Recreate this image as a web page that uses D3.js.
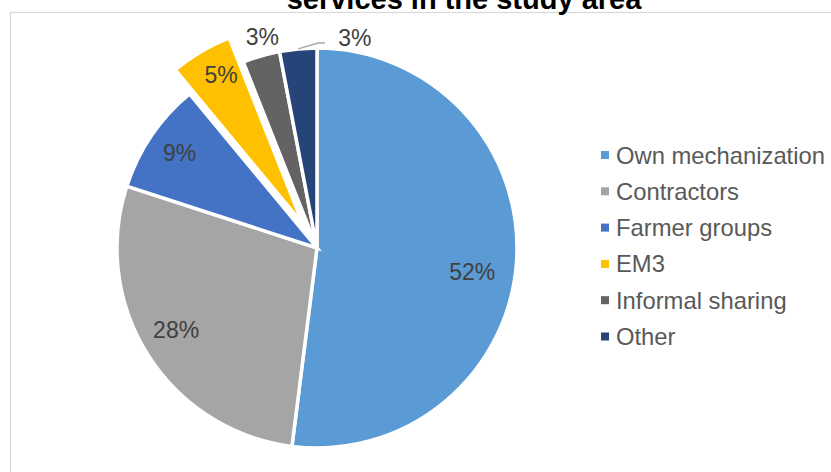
<!DOCTYPE html>
<html>
<head>
<meta charset="utf-8">
<script src="https://cdn.jsdelivr.net/npm/d3@7"></script>
<style>
  html, body { margin: 0; padding: 0; background: #fff; }
  svg { display: block; }
</style>
</head>
<body>
<svg id="chart" width="831" height="472"></svg>
<script>
// Sources of mechanization services (share of respondents, %)
const categories = ["Own mechanization", "Contractors", "Farmer groups", "EM3", "Informal sharing", "Other"];
const shares = [52, 28, 9, 5, 3, 3];
const sliceColors = ["#5B9BD5", "#A5A5A5", "#4472C4", "#FFC000", "#636363", "#264478"];

// Layout of the pie, its labels and the legend
const cx = 317, cy = 248, radius = 200;
const explodeBy = [0, 0, 0, 28, 0, 0];          // px pushed outward along the slice bisector
const labelRadius = [157, 163, 167, 198, 218, 214];
const labelTurn = [5.2, 2.2, 0.5, 1.6, 1.7, 15.6]; // degrees added to the bisector angle
const leaderFor = [false, false, false, false, false, true];

const svg = d3.select("#chart");
const fontFamily = "'Liberation Sans', Arial, sans-serif";

// Chart area frame
svg.append("rect")
  .attr("x", 10.5).attr("y", 12.5)
  .attr("width", 900).attr("height", 600)
  .attr("fill", "none")
  .attr("stroke", "#d9d9d9")
  .attr("stroke-width", 1.2);

// Title (second line)
svg.append("text")
  .attr("x", 464).attr("y", 9)
  .attr("text-anchor", "middle")
  .attr("font-family", fontFamily)
  .attr("font-size", 29)
  .attr("font-weight", "bold")
  .attr("fill", "#000")
  .text("services in the study area");

const data = categories.map((c, i) => ({ name: c, value: shares[i], color: sliceColors[i], i }));

const pie = d3.pie().value(d => d.value).sort(null);
const arcs = pie(data);
const arc = d3.arc().innerRadius(0).outerRadius(radius);

const g = svg.append("g").attr("transform", `translate(${cx},${cy})`);

// Slices
g.selectAll("path.slice")
  .data(arcs)
  .join("path")
  .attr("class", "slice")
  .attr("d", arc)
  .attr("fill", d => d.data.color)
  .attr("stroke", "#fff")
  .attr("stroke-width", 3.5)
  .attr("stroke-linejoin", "miter")
  .attr("transform", d => {
    const mid = (d.startAngle + d.endAngle) / 2;
    const o = explodeBy[d.data.i];
    return `translate(${o * Math.sin(mid)},${-o * Math.cos(mid)})`;
  });

// Percentage labels
const polar = (angle, r) => [r * Math.sin(angle), -r * Math.cos(angle)];
const labelPos = d => {
  const mid = (d.startAngle + d.endAngle) / 2 + labelTurn[d.data.i] * Math.PI / 180;
  return polar(mid, labelRadius[d.data.i]);
};

g.selectAll("text.pct")
  .data(arcs)
  .join("text")
  .attr("class", "pct")
  .attr("x", d => labelPos(d)[0])
  .attr("y", d => labelPos(d)[1])
  .attr("dy", "0.36em")
  .attr("text-anchor", "middle")
  .attr("font-family", fontFamily)
  .attr("font-size", 23)
  .attr("fill", "#404040")
  .text(d => d3.format(".0f")(d.data.value) + "%");

// Leader line for labels placed away from their slice
g.selectAll("path.leader")
  .data(arcs.filter(d => leaderFor[d.data.i]))
  .join("path")
  .attr("class", "leader")
  .attr("fill", "none")
  .attr("stroke", "#a6a6a6")
  .attr("stroke-width", 1.3)
  .attr("d", d => {
    const mid = (d.startAngle + d.endAngle) / 2;
    const p0 = polar(mid, radius);
    const p1 = polar(d.endAngle + 0.005, radius + 5);
    const lp = labelPos(d);
    const p2 = [lp[0] - 30, p1[1]];
    return d3.line()([p0, p1, p2]);
  });

// Legend
const legend = svg.append("g").attr("transform", "translate(601,155)");
const rowStep = 36.3;
const rows = legend.selectAll("g.row")
  .data(data)
  .join("g")
  .attr("class", "row")
  .attr("transform", (d, i) => `translate(0,${i * rowStep})`);

rows.append("rect")
  .attr("x", 0).attr("y", -4)
  .attr("width", 8).attr("height", 8)
  .attr("fill", d => d.color);

rows.append("text")
  .attr("x", 15).attr("y", 0)
  .attr("dy", "0.36em")
  .attr("font-family", fontFamily)
  .attr("font-size", 23.8)
  .attr("fill", "#595959")
  .text(d => d.name);
</script>
</body>
</html>
